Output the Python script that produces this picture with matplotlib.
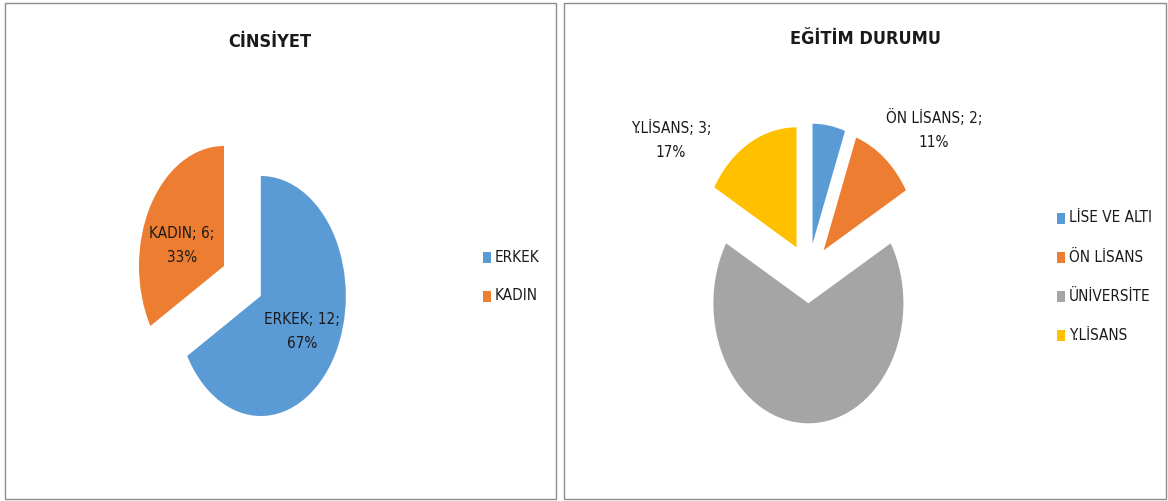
import matplotlib.pyplot as plt
from matplotlib.patches import Rectangle

# data
gender_cats = ['ERKEK', 'KADIN']
gender_vals = [12, 6]
edu_cats = ['LİSE VE ALTI', 'ÖN LİSANS', 'ÜNİVERSİTE', 'Y.LİSANS']
edu_vals = [1, 2, 12, 3]

colors = ['#5B9BD5', '#ED7D31', '#A5A5A5', '#FFC000']
plt.rcParams['font.family'] = ['DejaVu Sans']
plt.rcParams['font.stretch'] = 'condensed'

W, H = 1168, 501
fig = plt.figure(figsize=(W / 100, H / 100), dpi=100)


def draw_pie(cx, cy, rx, ry, vals, k=1.6):
    # axes placed in pixel units so the pie comes out as a stretched ellipse
    ax = fig.add_axes([(cx - k * rx) / W, (H - cy - k * ry) / H,
                       2 * k * rx / W, 2 * k * ry / H])
    ax.pie(vals, colors=colors[:len(vals)], startangle=90, counterclock=False,
           explode=[0.25] * len(vals), radius=1,
           wedgeprops=dict(linewidth=0))
    ax.set_aspect('auto')
    ax.set_xlim(-k, k)
    ax.set_ylim(-k, k)
    ax.axis('off')


draw_pie(242.4, 281, 85, 120, gender_vals)
draw_pie(808.4, 273.3, 95, 120, edu_vals)

# overlay in pixel coordinates for frames, titles, labels, legends
ov = fig.add_axes([0, 0, 1, 1])
ov.set_xlim(0, W)
ov.set_ylim(H, 0)
ov.axis('off')

for x0, x1 in [(4.5, 556), (564, 1166)]:
    ov.add_patch(Rectangle((x0, 2.5), x1 - x0, 496.5, fill=False,
                           edgecolor='#8c8c8c', linewidth=1))

ov.text(270, 42, 'CİNSİYET', ha='center', va='center', fontsize=13,
        fontweight='bold', color='#1a1a1a')
ov.text(865, 39, 'EĞİTİM DURUMU', ha='center', va='center', fontsize=13,
        fontweight='bold', color='#1a1a1a')


def pct(v, vals):
    return round(100 * v / sum(vals))


# data labels (Excel style: name; value; percent)
label_pos = {'ERKEK': (302, 331), 'KADIN': (182, 245),
             'ÖN LİSANS': (934, 129), 'Y.LİSANS': (671, 140)}
for cats, vals in [(gender_cats, gender_vals), (edu_cats, edu_vals)]:
    for c, v in zip(cats, vals):
        if c in label_pos:
            x, y = label_pos[c]
            ov.text(x, y, f'{c}; {v};\n{pct(v, vals)}%', ha='center',
                    va='center', fontsize=11, color='#1a1a1a',
                    linespacing=1.75)

# legends
for cats, lx, ly0 in [(gender_cats, 483, 257), (edu_cats, 1057, 218)]:
    for i, c in enumerate(cats):
        y = ly0 + i * 39
        ov.add_patch(Rectangle((lx, y - 5.5), 8, 11.5, facecolor=colors[i],
                               edgecolor='none'))
        ov.text(lx + 12, y, c, ha='left', va='center', fontsize=11,
                color='#1a1a1a')

fig.savefig('out.png', dpi=100)
